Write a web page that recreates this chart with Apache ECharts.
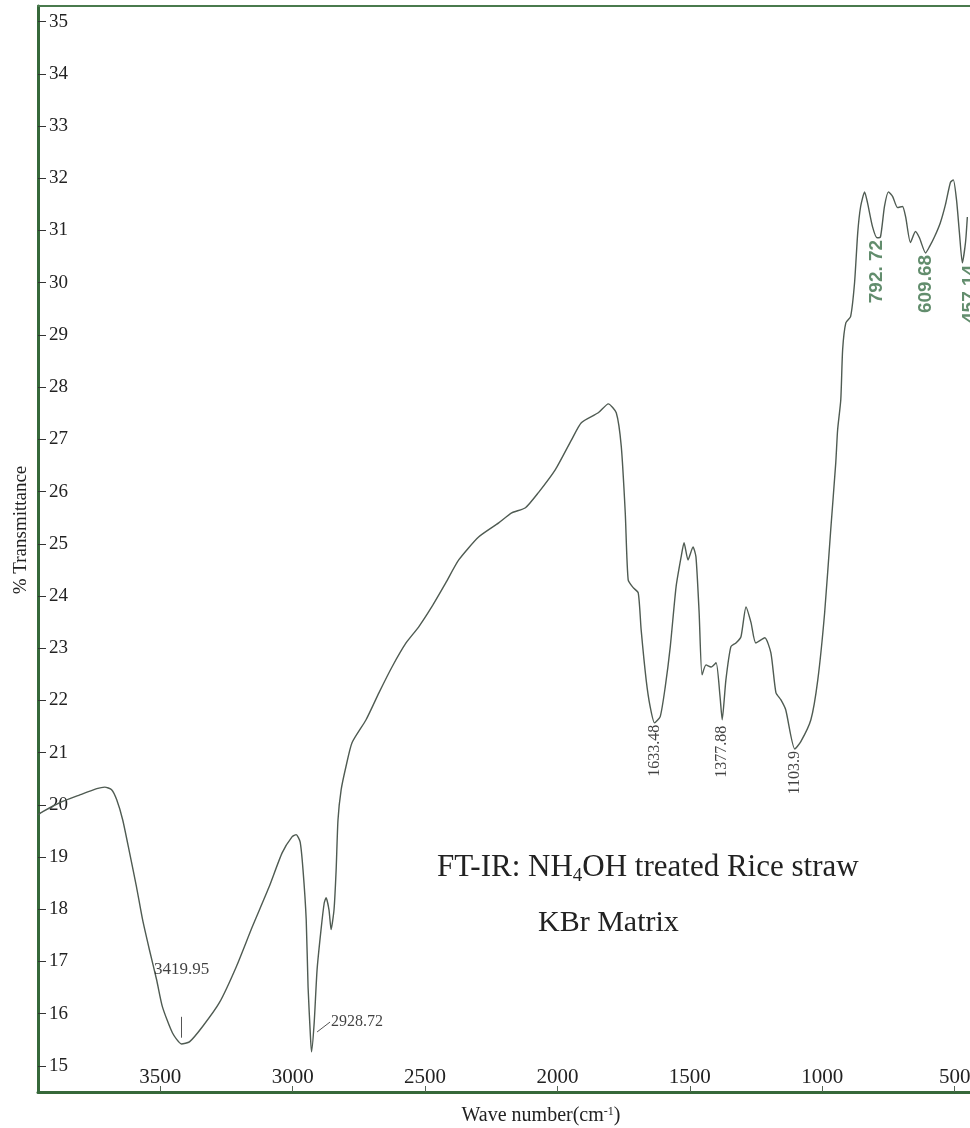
<!DOCTYPE html>
<html>
<head>
<meta charset="utf-8">
<script src="https://cdn.jsdelivr.net/npm/echarts@6/dist/echarts.min.js"></script>
<style>
  html, body { margin: 0; padding: 0; background: #ffffff; }
  #myChart { width: 970px; height: 1128px; }
</style>
</head>
<body>
<div id="myChart"></div>
<script>
// spectrum (wave number cm-1, % transmittance)
var wavenumber = [
  3962, 3944, 3880, 3804, 3740, 3710, 3684, 3665, 3642, 3616,
  3590, 3567, 3541, 3514, 3492, 3454, 3420, 3390, 3341, 3277,
  3213, 3153, 3089, 3040, 3002, 2987, 2972, 2961, 2949, 2942,
  2933, 2929, 2919, 2908, 2893, 2881, 2874, 2863, 2855, 2844,
  2836, 2829, 2817, 2799, 2776, 2723, 2674, 2625, 2572, 2524,
  2475, 2422, 2373, 2298, 2222, 2173, 2121, 2072, 2008, 1947,
  1910, 1846, 1808, 1778, 1759, 1744, 1733, 1714, 1695, 1684,
  1665, 1650, 1633.48, 1612, 1593, 1574, 1552, 1533, 1522, 1507,
  1488, 1477, 1465, 1454, 1439, 1420, 1401, 1386, 1377.88, 1364,
  1345, 1326, 1307, 1288, 1269, 1251, 1217, 1194, 1175, 1156,
  1138, 1103.9, 1081, 1043, 1017, 991, 968, 949, 942, 930,
  923, 911, 893, 878, 866, 855, 840, 829, 810, 792.72,
  780, 765, 750, 734, 716, 697, 685, 667, 648, 633,
  609.68, 595, 576, 554, 535, 516, 505, 493, 482, 471,
  459, 452
];
var transmittance = [
  19.81, 19.87, 20.04, 20.19, 20.31, 20.34, 20.29, 20.10, 19.71, 19.08,
  18.43, 17.80, 17.22, 16.65, 16.13, 15.63, 15.42, 15.46, 15.75, 16.21,
  16.90, 17.66, 18.43, 19.08, 19.39, 19.43, 19.29, 18.75, 17.80, 16.51,
  15.56, 15.27, 15.82, 16.84, 17.61, 18.12, 18.22, 17.99, 17.61, 17.99,
  18.75, 19.71, 20.29, 20.73, 21.19, 21.63, 22.15, 22.64, 23.10, 23.41,
  23.79, 24.25, 24.69, 25.13, 25.40, 25.59, 25.69, 25.98, 26.42, 26.99,
  27.32, 27.51, 27.68, 27.51, 26.86, 25.59, 24.31, 24.16, 24.06, 23.35,
  22.39, 21.88, 21.57, 21.69, 22.26, 23.03, 24.18, 24.75, 25.02, 24.69,
  24.94, 24.75, 23.68, 22.49, 22.68, 22.64, 22.72, 22.07, 21.63, 22.39,
  23.03, 23.10, 23.22, 23.79, 23.49, 23.10, 23.20, 22.91, 22.15, 22.01,
  21.82, 21.07, 21.21, 21.63, 22.39, 23.68, 25.27, 26.55, 27.18, 27.76,
  28.72, 29.23, 29.35, 30.00, 30.96, 31.46, 31.74, 31.53, 31.07, 30.86,
  30.88, 31.46, 31.74, 31.65, 31.44, 31.46, 31.26, 30.77, 30.98, 30.86,
  30.57, 30.69, 30.88, 31.15, 31.49, 31.92, 31.97, 31.59, 30.96, 30.38,
  30.77, 31.26
];

// tick labels
var xTicks = [3500, 3000, 2500, 2000, 1500, 1000, 500];
var yTicks = [15, 16, 17, 18, 19, 20, 21, 22, 23, 24, 25, 26, 27, 28, 29, 30, 31, 32, 33, 34, 35];

// peak labels written under the minima (rotated)
var dipWave = [1633.48, 1377.88, 1103.9, 792.72, 609.68, 471];
var dipText = ['1633.48', '1377.88', '1103.9', '792. 72', '609.68', '457.14'];
var dipGreen = [false, false, false, true, true, true];

// the two labels with leader lines in the OH / CH region
var leaderFrom = [[3420, 15.54], [2908, 15.65]];
var leaderTo = [[3420, 15.94], [2859, 15.84]];
var leaderText = ['3419.95', '2928.72'];

var axisGreen = '#36683a';
var traceColor = '#4f5b52';
var serif = '"Liberation Serif", "DejaVu Serif", serif';

function valueAt(w) {
  var i = wavenumber.indexOf(w);
  return transmittance[i];
}

var spectrum = wavenumber.map(function (w, i) {
  return [w, transmittance[i]];
});

var dipPoints = dipWave.map(function (w, i) {
  var green = dipGreen[i];
  return {
    value: [w, valueAt(w)],
    label: {
      show: true,
      formatter: dipText[i],
      position: 'bottom',
      distance: i === 1 ? 6 : 2,
      rotate: 90,
      align: 'right',
      verticalAlign: 'middle',
      offset: i === 5 ? [0, 7] : [0, 0],
      color: green ? '#3b7048' : '#111111',
      fontFamily: green ? '"Liberation Sans", Arial, sans-serif' : serif,
      fontWeight: green ? 'bold' : 'normal',
      fontSize: green ? 19 : 16
    }
  };
});

var leaderPoints = [
  {
    value: [leaderTo[0][0], valueAt(3420)],
    label: {
      show: true, formatter: leaderText[0], position: 'top', distance: 66,
      color: '#111111', fontFamily: serif, fontSize: 17
    }
  },
  {
    value: leaderTo[1],
    label: {
      show: true, formatter: leaderText[1], position: 'right', distance: 1,
      color: '#111111', fontFamily: serif, fontSize: 16
    }
  }
];

var option = {
  backgroundColor: '#ffffff',
  animation: false,
  grid: {
    left: 38,
    right: 0,
    top: 6,
    bottom: 36,
    outerBoundsMode: 'none'
  },
  xAxis: [
    {
      type: 'value',
      inverse: true,
      min: 442,
      max: 3962,
      name: 'Wave number(cm{sup|-1})',
      nameLocation: 'middle',
      nameGap: 14,
      nameTextStyle: {
        fontFamily: serif,
        fontSize: 20,
        color: '#222222',
        padding: [0, 0, 0, 74],
        rich: {
          sup: { fontFamily: serif, fontSize: 12, verticalAlign: 'top', color: '#222222' }
        }
      },
      axisLine: { show: true, lineStyle: { color: axisGreen, width: 3 } },
      axisTick: { show: true, inside: true, length: 6, customValues: xTicks, lineStyle: { color: '#556655', width: 1 } },
      axisLabel: {
        show: true,
        inside: true,
        margin: 4,
        customValues: xTicks,
        formatter: function (v) { return String(v); },
        fontFamily: serif,
        fontSize: 21,
        color: '#222222'
      },
      splitLine: { show: false }
    },
    {
      type: 'value',
      position: 'top',
      inverse: true,
      min: 442,
      max: 3962,
      axisLine: { show: true, lineStyle: { color: '#4a7a4e', width: 2 } },
      axisTick: { show: false },
      axisLabel: { show: false },
      splitLine: { show: false }
    }
  ],
  yAxis: {
    type: 'value',
    min: 14.5,
    max: 35.3,
    name: '% Transmittance',
    nameLocation: 'middle',
    nameGap: 6,
    nameTextStyle: {
      fontFamily: serif,
      fontSize: 19,
      color: '#222222',
      padding: [0, 0, 0, 38]
    },
    axisLine: { show: true, lineStyle: { color: axisGreen, width: 3 } },
    axisTick: { show: true, inside: true, length: 8, customValues: yTicks, lineStyle: { color: '#333333', width: 1 } },
    axisLabel: {
      show: true,
      inside: true,
      margin: 11,
      customValues: yTicks,
      fontFamily: serif,
      fontSize: 19,
      color: '#222222'
    },
    splitLine: { show: false }
  },
  graphic: [
    {
      type: 'text',
      left: 437,
      top: 852,
      style: {
        text: '{n|FT-IR: NH}{s|4}{n|OH treated Rice straw}',
        rich: {
          n: { fontFamily: serif, fontSize: 31, lineHeight: 36, fill: '#222222' },
          s: { fontFamily: serif, fontSize: 19, lineHeight: 36, verticalAlign: 'bottom', fill: '#222222' }
        }
      }
    },
    {
      type: 'text',
      left: 538,
      top: 908,
      style: {
        text: 'KBr Matrix',
        font: '30px ' + serif,
        fill: '#222222'
      }
    }
  ],
  series: [
    {
      name: 'spectrum',
      type: 'line',
      data: spectrum,
      showSymbol: false,
      smooth: 0.2,
      lineStyle: { color: traceColor, width: 1.4 },
      z: 3
    },
    {
      name: 'dips',
      type: 'scatter',
      data: dipPoints,
      symbolSize: 0,
      z: 4
    },
    {
      name: 'leaders',
      type: 'scatter',
      data: leaderPoints,
      symbolSize: 0,
      z: 4,
      markLine: {
        silent: true,
        symbol: 'none',
        label: { show: false },
        lineStyle: { color: '#555555', width: 1, type: 'solid' },
        data: leaderFrom.map(function (p, i) {
          return [{ coord: p }, { coord: leaderTo[i] }];
        })
      }
    }
  ]
};

var myChart = echarts.init(document.getElementById('myChart'));
myChart.setOption(option);
</script>
</body>
</html>
